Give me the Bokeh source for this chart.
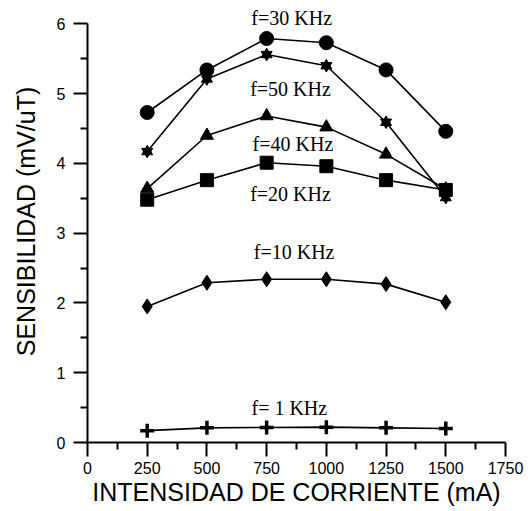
from bokeh.plotting import figure
from bokeh.models import Range1d, FixedTicker
from bokeh.core.properties import value
from bokeh.embed import file_html
from bokeh.resources import INLINE

# Data
corriente = [250, 500, 750, 1000, 1250, 1500]
f30 = [4.73, 5.34, 5.79, 5.73, 5.34, 4.46]
f50 = [4.17, 5.21, 5.56, 5.40, 4.59, 3.51]
f40 = [3.64, 4.40, 4.68, 4.52, 4.13, 3.63]
f20 = [3.48, 3.76, 4.01, 3.96, 3.76, 3.62]
f10 = [1.95, 2.29, 2.34, 2.34, 2.27, 2.01]
f1 = [0.17, 0.21, 0.215, 0.22, 0.21, 0.20]

labels = ["f=30 KHz", "f=50 KHz", "f=40 KHz", "f=20 KHz", "f=10 KHz", "f= 1 KHz"]
label_x = [855, 850, 860, 850, 865, 845]
label_y = [6.09, 5.07, 4.28, 3.56, 2.73, 0.50]

x_ticks = [0, 250, 500, 750, 1000, 1250, 1500, 1750]
y_ticks = [0, 1, 2, 3, 4, 5, 6]

p = figure(width=528, height=511, output_backend="svg", toolbar_location=None,
           x_range=Range1d(0, 1750), y_range=Range1d(0, 6.335),
           min_border_left=87, min_border_right=23, min_border_top=0, min_border_bottom=69)
p.outline_line_color = None
p.xgrid.grid_line_color = None
p.ygrid.grid_line_color = None
p.background_fill_color = "white"
p.border_fill_color = "white"

for ax in (p.xaxis[0], p.yaxis[0]):
    ax.axis_line_width = 2
    ax.major_tick_line_width = 2
    ax.minor_tick_line_width = 2
    ax.major_tick_in = 0
    ax.major_tick_out = 14
    ax.minor_tick_in = 0
    ax.minor_tick_out = 7
    ax.major_label_text_font = "Liberation Sans"
    ax.major_label_text_font_size = "16px"
    ax.major_label_text_color = "black"
    ax.axis_label_text_font = "Liberation Sans"
    ax.axis_label_text_font_size = "25px"
    ax.axis_label_text_font_style = "normal"
    ax.axis_label_text_color = "black"
    ax.axis_line_color = "black"
    ax.major_tick_line_color = "black"
    ax.minor_tick_line_color = "black"

p.yaxis.bounds = (0, 6)
p.xaxis.ticker = FixedTicker(ticks=x_ticks, minor_ticks=[125, 375, 625, 875, 1125, 1375, 1625])
p.yaxis.ticker = FixedTicker(ticks=y_ticks, minor_ticks=[0.5, 1.5, 2.5, 3.5, 4.5, 5.5])
p.xaxis.axis_label = "INTENSIDAD DE CORRIENTE (mA)"
p.yaxis.axis_label = "SENSIBILIDAD (mV/uT)"
p.xaxis.major_label_standoff = 5
p.xaxis.axis_label_standoff = 1
p.yaxis.major_label_standoff = 8
p.yaxis.axis_label_standoff = 14

lw = 1.6
p.line(corriente, f30, line_color="black", line_width=lw)
p.scatter(corriente, f30, marker="circle", size=14, color="black")

p.line(corriente, f50, line_color="black", line_width=lw)
p.scatter(corriente, f50, marker="triangle", size=11, color="black")
p.scatter(corriente, f50, marker="inverted_triangle", size=11, color="black")

p.line(corriente, f40, line_color="black", line_width=lw)
p.scatter(corriente, f40, marker="triangle", size=13, color="black")

p.line(corriente, f20, line_color="black", line_width=lw)
p.scatter(corriente, f20, marker="square", size=13, color="black")

p.line(corriente, f10, line_color="black", line_width=lw)
p.scatter(corriente, f10, marker="diamond", size=15, color="black")

p.line(corriente, f1, line_color="black", line_width=lw)
p.scatter(corriente, f1, marker="cross", size=14, line_color="black", line_width=3.5)

p.text(label_x, label_y, text=labels, text_font=value("Liberation Serif"),
       text_font_size="20px", text_align="center", text_baseline="middle", text_color="black")

open("out.html", "w").write(file_html(p, INLINE))
